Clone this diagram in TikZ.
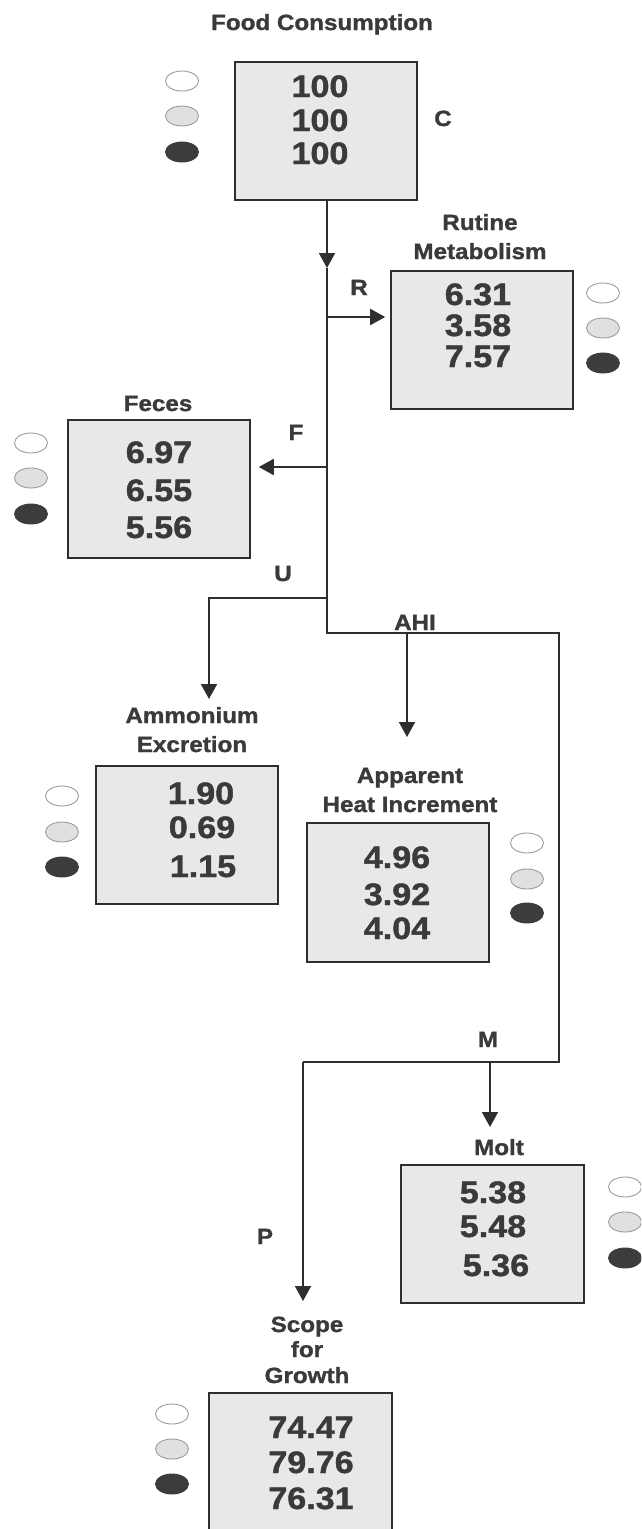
\documentclass[tikz,border=0pt]{standalone}
\usepackage{fontspec}
\setmainfont{Liberation Sans}[FakeStretch=1.1, BoldFeatures={FakeBold=1.3}]
\usetikzlibrary{arrows.meta,shapes.geometric}
\definecolor{ink}{HTML}{3A3A3A}
\definecolor{wire}{HTML}{2E2E2E}
\definecolor{boxfill}{HTML}{E8E8E8}
\definecolor{rim}{HTML}{9C9C9C}
\definecolor{lightdot}{HTML}{E0E0E0}
\definecolor{darkdot}{HTML}{3C3C3C}
\tikzset{
  flowbox/.style={draw=wire, line width=1.6pt, fill=boxfill, minimum width=182pt, minimum height=138pt, inner sep=0pt},
  num/.style={font=\fontsize{31}{31}\selectfont\bfseries, text=ink, anchor=base, inner sep=0pt},
  lab/.style={font=\fontsize{22}{22}\selectfont\bfseries, text=ink, anchor=base, inner sep=0pt},
  dot/.style={ellipse, minimum width=33pt, minimum height=20pt, inner sep=0pt, line width=0.9pt},
  dotA/.style={dot, draw=rim, fill=white},
  dotB/.style={dot, draw=rim, fill=lightdot},
  dotC/.style={dot, draw=darkdot, fill=darkdot},
  wireline/.style={draw=wire, line width=1.8pt},
  flow/.style={wireline, -{Triangle[width=16pt,length=15pt]}}
}
\begin{document}
\begin{tikzpicture}[x=1pt, y=-1pt]
\useasboundingbox (0,0) rectangle (641,1529);
\clip (0,0) rectangle (641,1529);
\fill[white] (0,0) rectangle (641,1529);

% ---------- Food consumption ----------
\node[lab] (tC) at (322,30) {Food Consumption};
\node[flowbox] (C) at (326,131) {};
\node[num] (c1) at (320,97) {100};
\node[num] (c2) at (320,131) {100};
\node[num] (c3) at (320,164) {100};
\node[dotA] (eC1) at (182,81) {};
\node[dotB] (eC2) at (182,116) {};
\node[dotC] (eC3) at (182,152) {};
\node[lab] (lC) at (443,126) {C};

% ---------- Routine metabolism ----------
\node[lab] (tRa) at (480,230) {Rutine};
\node[lab] (tRb) at (480,259) {Metabolism};
\node[flowbox] (R) at (482,340) {};
\node[num] (r1) at (478,305) {6.31};
\node[num] (r2) at (478,336) {3.58};
\node[num] (r3) at (478,367) {7.57};
\node[dotA] (eR1) at (603,293) {};
\node[dotB] (eR2) at (603,328) {};
\node[dotC] (eR3) at (603,363) {};
\node[lab] (lR) at (359,295) {R};

% ---------- Feces ----------
\node[lab] (tF) at (158,411) {Feces};
\node[flowbox] (F) at (159,489) {};
\node[num] (f1) at (159,463) {6.97};
\node[num] (f2) at (159,501) {6.55};
\node[num] (f3) at (159,538) {5.56};
\node[dotA] (eF1) at (31,443) {};
\node[dotB] (eF2) at (31,478) {};
\node[dotC] (eF3) at (31,514) {};
\node[lab] (lF) at (296,440) {F};

% ---------- Ammonium excretion ----------
\node[lab] (lU) at (283,581) {U};
\node[lab] (tUa) at (192,723) {Ammonium};
\node[lab] (tUb) at (192,752) {Excretion};
\node[flowbox] (U) at (187,835) {};
\node[num] (u1) at (201,804) {1.90};
\node[num] (u2) at (202,838) {0.69};
\node[num] (u3) at (203,877) {1.15};
\node[dotA] (eU1) at (62,796) {};
\node[dotB] (eU2) at (62,832) {};
\node[dotC] (eU3) at (62,867) {};

% ---------- Apparent heat increment ----------
\node[lab] (lA) at (415,630) {AHI};
\node[lab] (tAa) at (410,783) {Apparent};
\node[lab] (tAb) at (410,812) {Heat Increment};
\node[flowbox, minimum height=139pt] (A) at (398,892.5) {};
\node[num] (a1) at (397,868) {4.96};
\node[num] (a2) at (397,905) {3.92};
\node[num] (a3) at (397,939) {4.04};
\node[dotA] (eA1) at (527,843) {};
\node[dotB] (eA2) at (527,879) {};
\node[dotC] (eA3) at (527,913) {};

% ---------- Molt ----------
\node[lab] (lM) at (488,1047) {M};
\node[lab] (tM) at (499,1155) {Molt};
\node[flowbox, minimum width=183pt] (M) at (492.5,1234) {};
\node[num] (m1) at (493,1203) {5.38};
\node[num] (m2) at (493,1237) {5.48};
\node[num] (m3) at (496,1276) {5.36};
\node[dotA] (eM1) at (625,1187) {};
\node[dotB] (eM2) at (625,1222) {};
\node[dotC] (eM3) at (625,1258) {};

% ---------- Scope for growth ----------
\node[lab] (lP) at (265,1244) {P};
\node[lab] (tPa) at (307,1332) {Scope};
\node[lab] (tPb) at (307,1357) {for};
\node[lab] (tPc) at (307,1383) {Growth};
\node[flowbox, minimum width=183pt, minimum height=142pt] (P) at (300.5,1464) {};
\node[num] (p1) at (311,1438) {74.47};
\node[num] (p2) at (311,1473) {79.76};
\node[num] (p3) at (311,1509) {76.31};
\node[dotA] (eP1) at (172,1414) {};
\node[dotB] (eP2) at (172,1449) {};
\node[dotC] (eP3) at (172,1484) {};

% ---------- junctions of the energy flow ----------
\coordinate (tipC) at (327,268);
\coordinate (jR) at (327,317);
\coordinate (jF) at (327,467);
\coordinate (jU) at (327,598);
\coordinate (cU) at (209,598);
\coordinate (tipU) at (209,699);
\coordinate (jT) at (327,633);
\coordinate (jA) at (407,633);
\coordinate (tipA) at (407,737);
\coordinate (cE) at (559,633);
\coordinate (cE2) at (559,1062);
\coordinate (jM) at (490,1062);
\coordinate (tipM) at (490,1127);
\coordinate (cP) at (303,1062);
\coordinate (tipP) at (303,1301);

% ---------- connectors ----------
\draw[flow] (C.south -| tipC) -- (tipC);
\draw[wireline] (tipC) -- (jT) -- (cE) -- (cE2) -- (cP);
\draw[flow, shorten >=5pt] (jR) -- (R.west |- jR);
\draw[flow, shorten >=8pt] (jF) -- (F.east |- jF);
\draw[flow] (jU) -- (cU) -- (tipU);
\draw[flow] (jA) -- (tipA);
\draw[flow] (jM) -- (tipM);
\draw[flow] (cP) -- (tipP);
\end{tikzpicture}
\end{document}
